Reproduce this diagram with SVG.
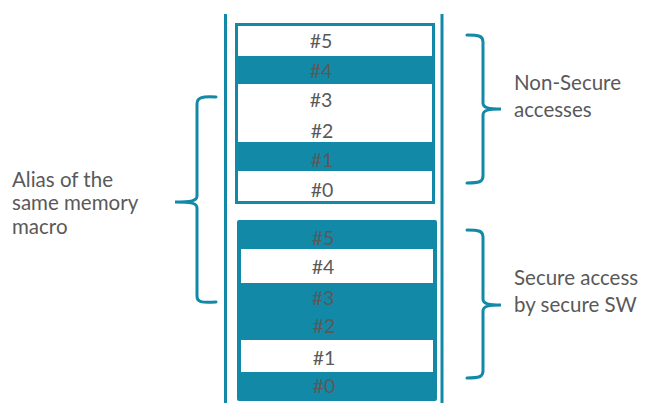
<svg xmlns="http://www.w3.org/2000/svg" width="645" height="403" viewBox="0 0 645 403">
<style>
.lbl{font-family:Lato,"Liberation Sans",sans-serif;font-size:20.5px;fill:#595959}
.num{font-family:Lato,"Liberation Sans",sans-serif;font-size:19.5px;fill:#595959;text-anchor:middle}
.teal{fill:#1389A8}
.br{fill:none;stroke:#1389A8;stroke-width:3;stroke-linecap:round}
</style>
<rect width="645" height="403" fill="#fff"/>
<g id="rails">
<line x1="225.5" y1="14" x2="225.5" y2="403" stroke="#1389A8" stroke-width="3"/>
<line x1="442" y1="14" x2="442" y2="403" stroke="#1389A8" stroke-width="3"/>
</g>
<g id="nonsecure-region">
<rect x="236.5" y="24.5" width="197" height="178" fill="#fff" stroke="#1389A8" stroke-width="3"/>
<rect class="teal" x="238" y="56" width="194" height="28"/>
<rect class="teal" x="238" y="142" width="194" height="29"/>
<text class="num" x="321" y="48">#5</text>
<text class="num" x="321" y="78">#4</text>
<text class="num" x="321" y="107">#3</text>
<text class="num" x="322" y="138">#2</text>
<text class="num" x="322" y="167">#1</text>
<text class="num" x="322" y="197">#0</text>
</g>
<g id="secure-region">
<rect class="teal" x="237" y="220" width="200" height="181" rx="2"/>
<rect x="241" y="249" width="192" height="34" fill="#fff"/>
<rect x="241" y="340" width="192" height="32" fill="#fff"/>
<text class="num" x="323" y="245">#5</text>
<text class="num" x="323" y="274">#4</text>
<text class="num" x="323" y="305">#3</text>
<text class="num" x="324" y="333">#2</text>
<text class="num" x="324" y="365">#1</text>
<text class="num" x="324" y="393">#0</text>
</g>
<g id="connectors">
<path class="br" d="M216 97 C201 96 197 98 197 104 L197 196 C197 201 191 202 175 202 C191 202 197 203 197 208 L197 296 C197 302 201 303 216 302"/>
<path class="br" d="M467 35 C479 35 483 36 483 42 L483 103 C483 108 489 109 501 109 C489 109 483 110 483 115 L483 176 C483 182 479 183 467 183"/>
<path class="br" d="M467 230 C479 230 483 231 483 237 L483 299 C483 304 489 305 501 305 C489 305 483 306 483 311 L483 371 C483 377 479 378 467 378"/>
</g>
<g id="label-alias">
<text class="lbl" x="12" y="187">Alias of the</text>
<text class="lbl" x="12" y="210">same memory</text>
<text class="lbl" x="12" y="234">macro</text>
</g>
<g id="label-nonsecure">
<text class="lbl" x="514" y="90">Non-Secure</text>
<text class="lbl" x="514" y="117">accesses</text>
</g>
<g id="label-secure">
<text class="lbl" x="514" y="285">Secure access</text>
<text class="lbl" x="514" y="312">by secure SW</text>
</g>
</svg>
